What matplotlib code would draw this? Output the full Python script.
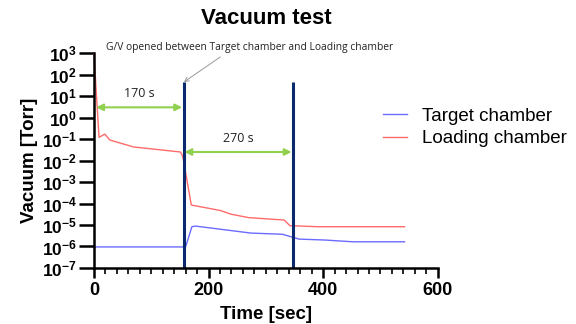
import numpy as np
import matplotlib
matplotlib.use("Agg")
import matplotlib.pyplot as plt
from matplotlib.ticker import FixedLocator, MultipleLocator

plt.rcParams['font.family'] = ['Liberation Sans', 'DejaVu Sans']
plt.rcParams['mathtext.fontset'] = 'custom'
plt.rcParams['mathtext.rm'] = 'Liberation Sans:bold'
plt.rcParams['mathtext.it'] = 'Liberation Sans:bold'
plt.rcParams['mathtext.bf'] = 'Liberation Sans:bold'

# data
target_t = [0, 160, 171, 177, 274, 329, 358, 402, 452, 542]
target_p = [9.5e-7, 9.5e-7, 8.3e-6, 8.9e-6, 4.2e-6, 3.7e-6, 2.2e-6, 2.0e-6, 1.65e-6, 1.65e-6]

loading_t = [0, 9, 19, 28, 69, 151, 155, 170, 221, 239, 270, 332, 342, 391, 542]
loading_p = [1000, 0.12, 0.17, 0.09, 0.043, 0.025, 0.016, 8.5e-5, 4.7e-5, 3.2e-5,
             2.2e-5, 1.7e-5, 9.3e-6, 8.3e-6, 8.3e-6]

gv_times = [157, 347]
gv_top = 45

span1 = (4, 154, 3.0, "170 s")
span2 = (158, 345, 0.025, "270 s")

yticks = [10.0 ** k for k in range(-7, 4)]
ytick_labels = ['$10^{%d}$' % k for k in range(-7, 4)]

fig = plt.figure(figsize=(5.76, 3.24), dpi=100)
ax = fig.add_axes([0.163, 0.173, 0.597, 0.663])

ax.plot(target_t, target_p, color='#6b6bff', lw=1.0, label='Target chamber')
ax.plot(loading_t, loading_p, color='#ff6b6b', lw=1.0, label='Loading chamber',
        clip_on=False)

for t in gv_times:
    ax.plot([t, t], [1e-7, gv_top], color='#0b2a6e', lw=2.2, solid_capstyle='butt')

# green arrows showing the intervals
for x0, x1, y, txt in (span1, span2):
    ax.annotate('', xy=(x0, y), xytext=(x1, y),
                arrowprops=dict(arrowstyle='<|-|>', color='#92d050', lw=1.5,
                                mutation_scale=10, shrinkA=0, shrinkB=0))
    ax.text((x0 + x1) / 2, y * 4.2, txt, ha='center', va='center',
            fontsize=9, family='Open Sans', color='#222222')

ax.annotate('G/V opened between Target chamber and Loading chamber',
            xy=(gv_times[0], gv_top), xytext=(21, 1.9e3),
            fontsize=7.4, family='Open Sans', color='#222222',
            ha='left', va='center', annotation_clip=False,
            arrowprops=dict(arrowstyle='->', color='#999999', lw=0.7,
                            shrinkA=2, shrinkB=0, relpos=(0.42, 0.0)))

ax.set_yscale('log')
ax.set_xlim(0, 600)
ax.set_ylim(1e-7, 1e3)
ax.yaxis.set_major_locator(FixedLocator(yticks))
ax.set_yticklabels(ytick_labels)
ax.yaxis.set_minor_locator(FixedLocator([]))
ax.xaxis.set_major_locator(MultipleLocator(200))
ax.xaxis.set_minor_locator(MultipleLocator(20))

for s in ['top', 'right']:
    ax.spines[s].set_visible(False)
for s in ['left', 'bottom']:
    ax.spines[s].set_linewidth(1.8)

ax.tick_params(axis='y', which='major', direction='out', length=11, width=1.8,
               labelsize=12.5, pad=1)
ax.tick_params(axis='x', which='major', direction='out', length=7, width=1.8,
               labelsize=13, pad=3)
ax.tick_params(which='minor', direction='out', length=4, width=1.2)
for lab in ax.get_xticklabels():
    lab.set_fontweight('bold')

ax.set_xlabel('Time [sec]', fontsize=13.5, fontweight='bold', labelpad=5)
ax.set_ylabel('Vacuum [Torr]', fontsize=13.5, fontweight='bold', labelpad=3)
fig.text(0.462, 0.944, 'Vacuum test', ha='center', va='center',
         fontsize=16, fontweight='bold')

fig.legend(loc='center left', bbox_to_anchor=(0.665, 0.607), frameon=False,
           fontsize=13.5, handlelength=1.3, handletextpad=0.8,
           labelspacing=0.28, borderpad=0, borderaxespad=0)

fig.savefig('out.png', dpi=100)
